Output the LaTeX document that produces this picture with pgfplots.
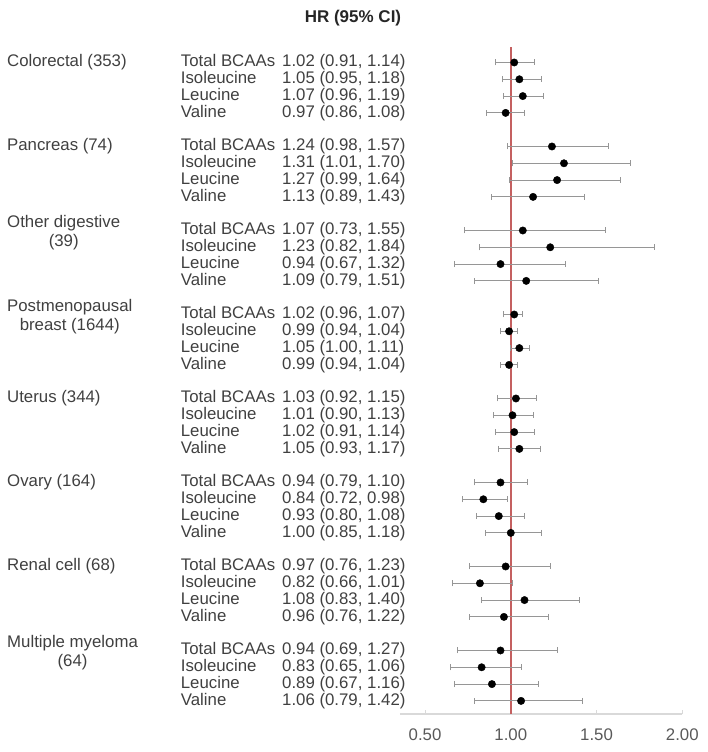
\documentclass[border=0pt]{standalone}
\usepackage{pgfplots}
\usepackage{pgfplotstable}
\pgfplotsset{compat=1.18}
\usepackage{fontspec}
\setmainfont{Liberation Sans}
\definecolor{txt}{RGB}{64,64,64}
\definecolor{refred}{RGB}{196,96,96}
\definecolor{whisk}{RGB}{150,150,150}
\definecolor{axgray}{RGB}{217,217,217}

\pgfplotstableread{
r hr lo hi
0 1.02 0.91 1.14
1 1.05 0.95 1.18
2 1.07 0.96 1.19
3 0.97 0.86 1.08
5 1.24 0.98 1.57
6 1.31 1.01 1.70
7 1.27 0.99 1.64
8 1.13 0.89 1.43
10 1.07 0.73 1.55
11 1.23 0.82 1.84
12 0.94 0.67 1.32
13 1.09 0.79 1.51
15 1.02 0.96 1.07
16 0.99 0.94 1.04
17 1.05 1.00 1.11
18 0.99 0.94 1.04
20 1.03 0.92 1.15
21 1.01 0.90 1.13
22 1.02 0.91 1.14
23 1.05 0.93 1.17
25 0.94 0.79 1.10
26 0.84 0.72 0.98
27 0.93 0.80 1.08
28 1.00 0.85 1.18
30 0.97 0.76 1.23
31 0.82 0.66 1.01
32 1.08 0.83 1.40
33 0.96 0.76 1.22
35 0.94 0.69 1.27
36 0.83 0.65 1.06
37 0.89 0.67 1.16
38 1.06 0.79 1.42
}\datatable

\begin{document}
\begin{tikzpicture}
\useasboundingbox (-400pt,-38pt) rectangle (308pt,714pt);
\begin{axis}[
  at={(0pt,0pt)}, anchor=south west,
  scale only axis,
  width=282.3pt, height=667.3pt,
  xmin=0.354, xmax=2.0,
  ymin=-38.78, ymax=0.94,
  clip=false,
  hide y axis,
  axis x line*=bottom,
  x axis line style={draw=axgray, line width=1.3pt},
  xtick={0.5,1,1.5,2},
  tick align=inside,
  major tick length=4pt,
  xtick style={draw=axgray, line width=1pt},
  xticklabel style={font=\fontsize{16.8}{20}\selectfont, text=black!65, yshift=-11pt},
  /pgf/number format/.cd, fixed, zerofill, precision=2, assume math mode=true,
]
\addplot[refred, line width=1.5pt] coordinates {(1,-38.78) (1,0.94)};
\addplot[draw=none, mark=none,
  error bars/.cd, x dir=both, x explicit,
  error bar style={draw=whisk, line width=0.9pt},
  error mark options={draw=whisk, mark size=3pt, line width=0.9pt, rotate=90}]
  table[x=hr, y expr=-\thisrow{r},
        x error plus expr=\thisrow{hi}-\thisrow{hr},
        x error minus expr=\thisrow{hr}-\thisrow{lo}] {\datatable};
\addplot[only marks, mark=*, mark size=3.7pt, black]
  table[x=hr, y expr=-\thisrow{r}] {\datatable};
\end{axis}

\begin{scope}[every node/.style={font=\fontsize{16.8}{19.5}\selectfont, text=txt, inner sep=0pt}]
\node[font=\fontsize{17}{20}\selectfont\bfseries, text=black!85] at (-47pt,696pt) {HR (95\% CI)};
% group labels (rows 0,5,...,35)
\foreach \g/\lab in {0/{Colorectal (353)}, 1/{Pancreas (74)}, 5/{Uterus (344)}, 6/{Ovary (164)},
  7/{Renal cell (68)}}
  \node[anchor=west, text height=11.5pt, text depth=3pt] at (-393pt,{651.5pt-84pt*(\g>=5 ? \g-1 : \g)}) {\lab};
\foreach \g/\lab in {2/{Other digestive\\(39)},
  3/{Postmenopausal\\breast (1644)}, 7/{Multiple myeloma\\(64)}}
  \node[anchor=west, align=center] at (-393pt,{649.5pt-84pt*\g}) {\lab};
\foreach \r/\m/\v in {
 0/{Total BCAAs}/{1.02 (0.91, 1.14)}, 1/{Isoleucine}/{1.05 (0.95, 1.18)}, 2/{Leucine}/{1.07 (0.96, 1.19)}, 3/{Valine}/{0.97 (0.86, 1.08)},
 5/{Total BCAAs}/{1.24 (0.98, 1.57)}, 6/{Isoleucine}/{1.31 (1.01, 1.70)}, 7/{Leucine}/{1.27 (0.99, 1.64)}, 8/{Valine}/{1.13 (0.89, 1.43)},
 10/{Total BCAAs}/{1.07 (0.73, 1.55)}, 11/{Isoleucine}/{1.23 (0.82, 1.84)}, 12/{Leucine}/{0.94 (0.67, 1.32)}, 13/{Valine}/{1.09 (0.79, 1.51)},
 15/{Total BCAAs}/{1.02 (0.96, 1.07)}, 16/{Isoleucine}/{0.99 (0.94, 1.04)}, 17/{Leucine}/{1.05 (1.00, 1.11)}, 18/{Valine}/{0.99 (0.94, 1.04)},
 20/{Total BCAAs}/{1.03 (0.92, 1.15)}, 21/{Isoleucine}/{1.01 (0.90, 1.13)}, 22/{Leucine}/{1.02 (0.91, 1.14)}, 23/{Valine}/{1.05 (0.93, 1.17)},
 25/{Total BCAAs}/{0.94 (0.79, 1.10)}, 26/{Isoleucine}/{0.84 (0.72, 0.98)}, 27/{Leucine}/{0.93 (0.80, 1.08)}, 28/{Valine}/{1.00 (0.85, 1.18)},
 30/{Total BCAAs}/{0.97 (0.76, 1.23)}, 31/{Isoleucine}/{0.82 (0.66, 1.01)}, 32/{Leucine}/{1.08 (0.83, 1.40)}, 33/{Valine}/{0.96 (0.76, 1.22)},
 35/{Total BCAAs}/{0.94 (0.69, 1.27)}, 36/{Isoleucine}/{0.83 (0.65, 1.06)}, 37/{Leucine}/{0.89 (0.67, 1.16)}, 38/{Valine}/{1.06 (0.79, 1.42)}}
{
  \node[anchor=west, text height=11.5pt, text depth=3pt] at (-219.3pt,{651.5pt-16.8pt*\r}) {\m};
  \node[anchor=west, text height=11.5pt, text depth=3pt] at (-118pt,{651.5pt-16.8pt*\r}) {\v};
}
\end{scope}
\end{tikzpicture}
\end{document}
